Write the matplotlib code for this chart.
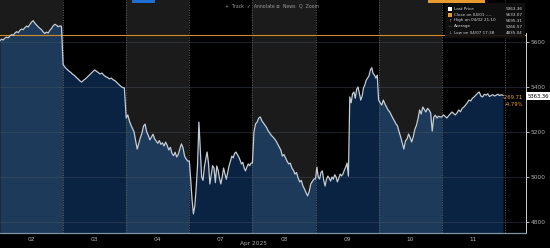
import numpy as np
import matplotlib
matplotlib.use('Agg')
import matplotlib.pyplot as plt
from matplotlib.patches import Rectangle

# intraday prices per session
days = ['02', '03', '04', '07', '08', '09', '10', '11']
day02 = [5606, 5613, 5609, 5618, 5622, 5619, 5628, 5633, 5630, 5640, 5646, 5642, 5652, 5658,
         5655, 5664, 5671, 5667, 5678, 5689, 5695, 5684, 5676, 5668, 5661, 5655, 5645, 5638,
         5644, 5640, 5652, 5660, 5672, 5679, 5675, 5668, 5672, 5670]
day03 = [5500, 5488, 5480, 5472, 5466, 5458, 5452, 5444, 5436, 5428, 5422, 5430, 5436, 5444,
         5452, 5460, 5468, 5476, 5470, 5464, 5458, 5462, 5452, 5446, 5442, 5436, 5440, 5432,
         5428, 5420, 5412, 5404, 5398, 5396]
day04 = [5262, 5276, 5250, 5231, 5215, 5200, 5160, 5124, 5150, 5175, 5195, 5227, 5235, 5200,
         5185, 5165, 5178, 5190, 5170, 5160, 5150, 5162, 5145, 5152, 5138, 5155, 5140, 5120,
         5132, 5105, 5095, 5110, 5089, 5100, 5125, 5147, 5130, 5093, 5080, 5071]
day07 = [5071, 4990, 4900, 4836, 4870, 4950, 5050, 5244, 5120, 5000, 4985, 5044, 5080, 5111,
         5060, 4969, 5010, 5050, 5040, 4975, 5049, 5030, 4995, 4969, 5000, 5040, 5013, 4990,
         5020, 5050, 5070, 5093, 5085, 5105, 5111, 5100, 5090, 5075, 5058, 5065, 5040, 5027,
         5045, 5058, 5050, 5062]
day08 = [5062, 5200, 5236, 5244, 5262, 5267, 5250, 5240, 5230, 5220, 5205, 5196, 5185, 5178,
         5170, 5160, 5147, 5135, 5120, 5093, 5100, 5085, 5070, 5058, 5062, 5040, 5030, 5013,
         5020, 4995, 4978, 4985, 4960, 4947, 4930, 4916, 4935, 4969, 4980, 4991]
day09 = [4991, 5044, 5000, 4991, 5020, 5027, 4985, 4960, 4990, 5004, 4995, 4982, 5000, 4990,
         5010, 5000, 4978, 4995, 5013, 5005, 5013, 5030, 5044, 5062, 5004, 5356, 5330, 5370,
         5378, 5350, 5390, 5400, 5370, 5342, 5360, 5396, 5410, 5431, 5440, 5450, 5476, 5486,
         5460, 5453, 5440, 5453]
day10 = [5342, 5330, 5320, 5342, 5325, 5311, 5298, 5290, 5276, 5262, 5250, 5236, 5227, 5200,
         5178, 5150, 5124, 5160, 5169, 5191, 5175, 5156, 5180, 5213, 5230, 5260, 5298, 5280,
         5311, 5300, 5289, 5305, 5298, 5285, 5204, 5267, 5275, 5262, 5270, 5267]
day11 = [5267, 5276, 5270, 5262, 5272, 5280, 5289, 5282, 5276, 5285, 5298, 5290, 5305, 5311,
         5320, 5330, 5342, 5338, 5350, 5356, 5364, 5372, 5378, 5360, 5356, 5368, 5364, 5370,
         5358, 5362, 5366, 5360, 5364, 5368, 5362, 5366, 5363]
sessions = [day02, day03, day04, day07, day08, day09, day10, day11]

prev_close = 5633.07
y_ticks = [4800, 5000, 5200, 5400, 5600]
legend_rows = [('Last Price', '5363.36'), ('Close on 04/01 ----', '5633.07'),
               ('High on 04/02 21:10', '5695.31'), ('Average', '5266.57'),
               ('Low on 04/07 17:38', '4835.04')]
last_price = '5363.36'
change_abs = '-269.71'
change_pct = '-4.79%'

W, H = 550, 248
def fx(px):
    return px / W
def fy(py):
    return 1 - py / H

xs, ys = [], []
for i, s in enumerate(sessions):
    xs.append(np.linspace(i, i + 1, len(s), endpoint=False))
    ys.append(np.array(s, dtype=float))
xs = np.concatenate(xs)
ys = np.concatenate(ys)

ymin, ymax = 4751, 5787
xmax = 526 / 63.1

fig = plt.figure(figsize=(5.5, 2.48), dpi=100, facecolor='black')
ax = fig.add_axes([0, fy(233), fx(526), 1 - fy(233)])
ax.set_facecolor('black')
ax.set_xlim(0, xmax)
ax.set_ylim(ymin, ymax)

gray_bg = '#1b1b1b'
navy_light = '#1d3a5a'
navy_dark = '#0a2342'
for i in range(len(sessions)):
    ax.axvspan(i, i + 1, color=gray_bg if i % 2 == 0 else 'black', lw=0, zorder=0)
    poly = ax.fill_between(xs, ys, ymin, color=navy_light if i % 2 == 0 else navy_dark,
                           lw=0, zorder=1)
    clip = Rectangle((i, ymin), 1, ymax - ymin, transform=ax.transData)
    poly.set_clip_path(clip)

for t in y_ticks:
    ax.axhline(t, color='#4a5866', lw=0.5, alpha=0.55, zorder=2)
for i in range(1, len(sessions) + 1):
    ax.axvline(i, color='#5c5c5c', lw=0.6, ls=(0, (1.5, 1.5)), zorder=2)

ax.axhline(prev_close, color='#d68a26', lw=0.8, zorder=3)
ax.plot(xs, ys, color='#c4ccd4', lw=0.9, zorder=4)

for side in ['top', 'left']:
    ax.spines[side].set_visible(False)
ax.spines['bottom'].set_color('#7f93a8')
ax.spines['bottom'].set_linewidth(0.9)
ax.spines['right'].set_color('#d0d0d0')
ax.spines['right'].set_linewidth(0.7)
ax.spines['right'].set_bounds(ymin, 5640)

ax.yaxis.tick_right()
ax.set_yticks(y_ticks)
ax.set_yticklabels([str(t) for t in y_ticks])
ax.tick_params(axis='y', colors='#d0d0d0', labelcolor='#b0b0b0', labelsize=4.2,
               length=2, width=0.6, pad=1.5)
ax.set_xticks(np.arange(len(days)) + 0.5)
ax.set_xticklabels(days)
ax.tick_params(axis='x', length=0, labelcolor='#b0b0b0', labelsize=4.2, pad=3)

fig.text(fx(253), fy(243), 'Apr 2025', color='#b0b0b0', fontsize=4.2,
         ha='center', va='center')

# right-side price tags
fig.text(fx(538), fy(96), last_price, color='black', fontsize=3.8, ha='center', va='center',
         bbox=dict(boxstyle='square,pad=0.2', fc='white', ec='none'))
fig.text(fx(523), fy(97.5), change_abs, color='#f0a030', fontsize=3.8, ha='right', va='center')
fig.text(fx(523), fy(104), change_pct, color='#f0a030', fontsize=3.8, ha='right', va='center')

# toolbar
fig.patches.append(Rectangle((fx(132), fy(2.5)), fx(23), 2.5 / H, transform=fig.transFigure,
                             fc='#1f6fd0', ec='none'))
fig.patches.append(Rectangle((fx(428), fy(2.5)), fx(57), 2.5 / H, transform=fig.transFigure,
                             fc='#e89a30', ec='none'))
for label, px in [('+  Track', 225), ('\u2713  Annotate', 247), ('\u2261  News', 276),
                  ('Q  Zoom', 299)]:
    fig.text(fx(px), fy(6), label, color='#9a9a9a', fontsize=3.3, ha='left', va='center')

# legend box
fig.patches.append(Rectangle((fx(445), fy(38)), fx(80), 35 / H, transform=fig.transFigure,
                             fc='#111111', ec='none', alpha=0.92, zorder=5))
row_y = [9, 14.5, 20.5, 26.5, 32.5]
marks = [('s', 'white'), ('s', '#e89a30'), ('\u2191', '#a0a0a0'), ('\u2014', '#a0a0a0'),
         ('\u2193', '#a0a0a0')]
for (name, val), py, (m, c) in zip(legend_rows, row_y, marks):
    if m == 's':
        fig.patches.append(Rectangle((fx(448), fy(py + 2)), fx(4), 4 / H,
                                     transform=fig.transFigure, fc=c, ec='none', zorder=6))
    else:
        fig.text(fx(450), fy(py), m, color=c, fontsize=3.0, ha='center', va='center', zorder=6)
    fig.text(fx(454), fy(py), name, color='#d8d8d8', fontsize=3.0, ha='left', va='center',
             zorder=6)
    fig.text(fx(523), fy(py), val, color='#d8d8d8', fontsize=3.0, ha='right', va='center',
             zorder=6)

fig.savefig('out.png', dpi=100, facecolor='black')
